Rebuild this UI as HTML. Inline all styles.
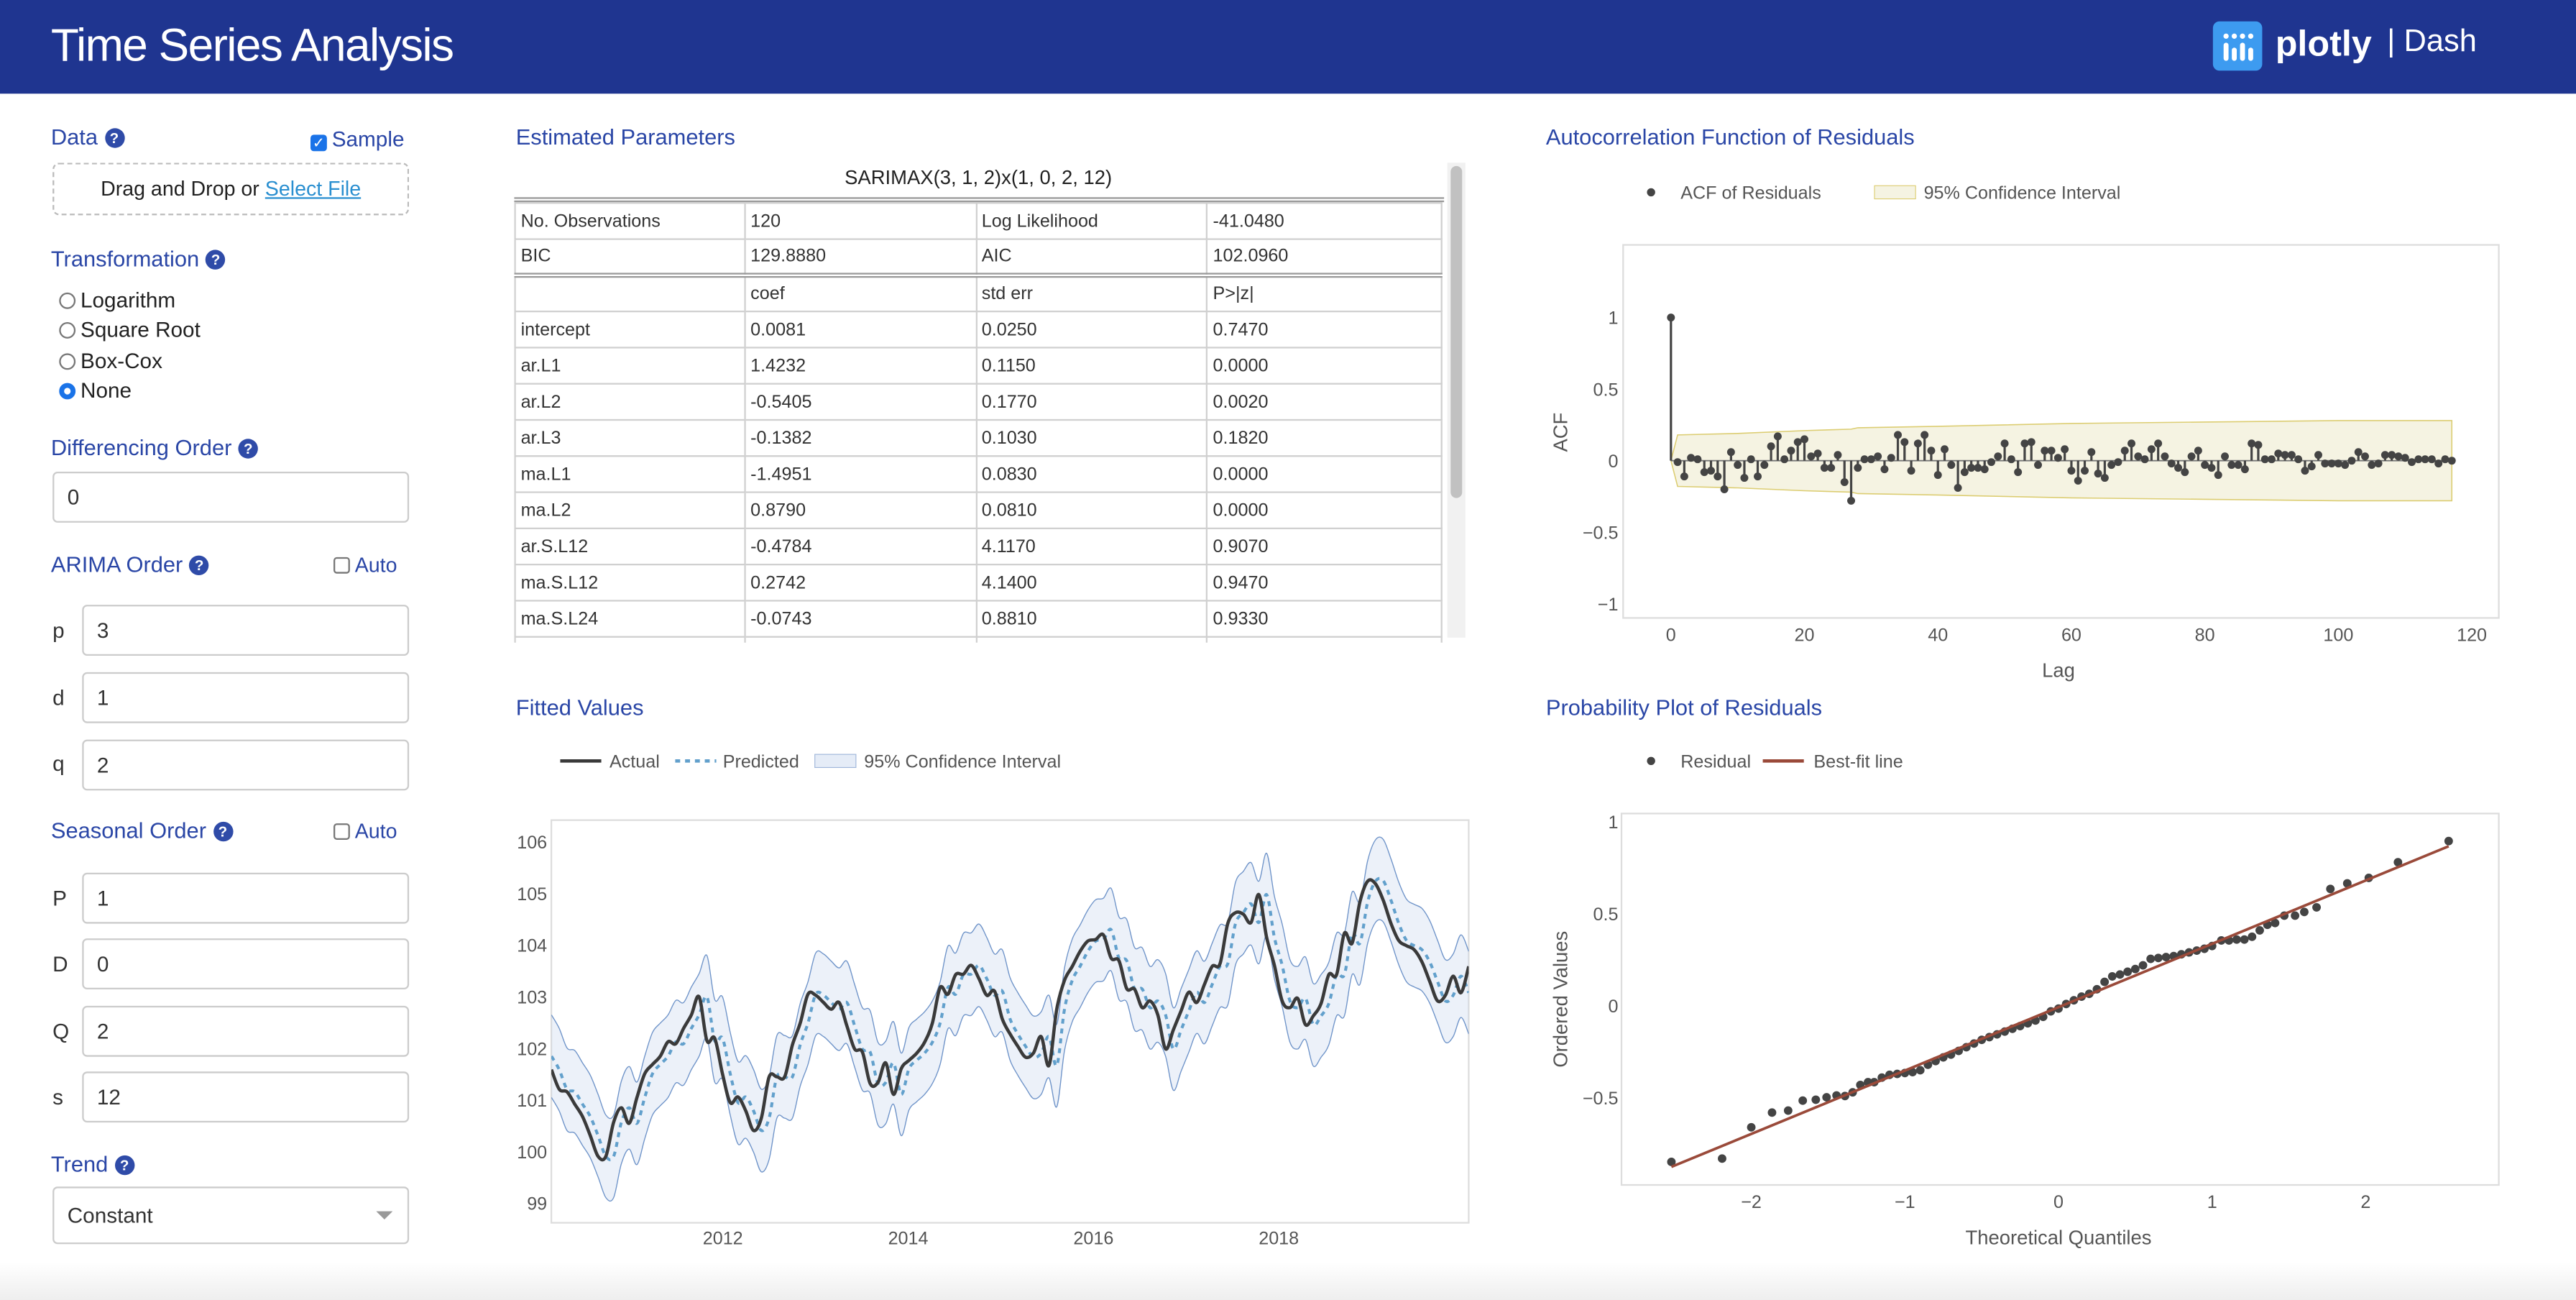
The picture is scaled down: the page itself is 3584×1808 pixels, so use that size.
<!DOCTYPE html>
<html><head><meta charset="utf-8"><title>Time Series Analysis</title>
<style>
html,body{margin:0;padding:0;width:3584px;height:1808px;overflow:hidden;background:#fff;}
#root{position:absolute;left:0;top:0;width:1568px;height:791px;transform:scale(2.285714);transform-origin:0 0;font-family:"Liberation Sans",sans-serif;color:#333;}
.abs{position:absolute;white-space:nowrap;}
.head{font-size:13.5px;color:#2a46a6;}
.help{display:inline-block;width:12px;height:12px;border-radius:50%;background:#2f4ba8;color:#fff;font-size:9px;font-weight:bold;text-align:center;line-height:12px;vertical-align:1px;margin-left:4px;}
.inp{position:absolute;border:1px solid #ccc;border-radius:3px;background:#fff;font-size:13px;line-height:29px;padding-left:8px;box-sizing:border-box;height:31px;}
.lbl{position:absolute;font-size:13px;color:#333;}
.radio{position:absolute;font-size:13px;color:#222;}
.radio span.c{display:inline-block;width:10px;height:10px;border:1px solid #777;border-radius:50%;margin-right:3px;vertical-align:-1px;box-sizing:border-box;}
.cb{display:inline-block;width:10px;height:10px;border:1px solid #777;border-radius:2px;vertical-align:-1px;margin-right:3px;box-sizing:border-box;background:#fff;}
table{border-collapse:collapse;font-size:11px;}
td{border:1px solid #d0d0d0;height:22px;padding:0 3px;box-sizing:border-box;}
svg text{font-family:"Liberation Sans",sans-serif;}
</style></head><body>
<div id="root">
<div class="abs" style="left:0;top:0;width:1568px;height:57px;background:#1f3590;"></div>
<div class="abs" style="left:31px;top:12px;font-size:28px;color:#fff;letter-spacing:-0.7px;">Time Series Analysis</div>
<div class="abs" style="left:1347px;top:13px;width:30px;height:30px;background:#3d9bf0;border-radius:4px;"></div>
<svg class="abs" style="left:1347px;top:13px" width="30" height="30"><g fill="#fff"><circle cx="8" cy="9" r="1.6"/><circle cx="13" cy="9" r="1.6"/><circle cx="18" cy="9" r="1.6"/><circle cx="23" cy="9" r="1.6"/><rect x="6.5" y="13" width="3" height="11" rx="1.5"/><rect x="11.5" y="16" width="3" height="8" rx="1.5"/><rect x="16.5" y="13" width="3" height="11" rx="1.5"/><rect x="21.5" y="16" width="3" height="8" rx="1.5"/></g></svg>
<div class="abs" style="left:1385px;top:14px;font-size:22px;font-weight:bold;color:#fff;">plotly</div>
<div class="abs" style="left:1453px;top:15px;font-size:19px;color:#fff;">| Dash</div>

<div class="abs head" style="left:31px;top:76px;">Data<span class="help">?</span></div>
<div class="abs" style="left:189px;top:77px;font-size:13px;color:#2a46a6;"><span class="cb" style="background:#1a73e8;border-color:#1a73e8;color:#fff;font-size:9px;line-height:9px;text-align:center">✓</span>Sample</div>
<div class="abs" style="left:32px;top:99px;width:217px;height:32px;border:1px dashed #bbb;border-radius:4px;box-sizing:border-box;text-align:center;line-height:30px;font-size:12.5px;color:#222;">Drag and Drop or <span style="color:#2a8fd0;text-decoration:underline">Select File</span></div>

<div class="abs head" style="left:31px;top:150px;">Transformation<span class="help">?</span></div>
<div class="radio" style="left:36px;top:175px;"><span class="c"></span>Logarithm</div>
<div class="radio" style="left:36px;top:193px;"><span class="c"></span>Square Root</div>
<div class="radio" style="left:36px;top:212px;"><span class="c"></span>Box-Cox</div>
<div class="radio" style="left:36px;top:230px;"><span class="c" style="border:3px solid #1a73e8"></span>None</div>

<div class="abs head" style="left:31px;top:265px;">Differencing Order<span class="help">?</span></div>
<div class="inp" style="left:32px;top:287px;width:217px;">0</div>

<div class="abs head" style="left:31px;top:336px;">ARIMA Order<span class="help">?</span></div>
<div class="abs" style="left:203px;top:337px;font-size:12.5px;color:#2a46a6;"><span class="cb"></span>Auto</div>
<div class="lbl" style="left:32px;top:376px;">p</div>
<div class="inp" style="left:50px;top:368px;width:199px;">3</div>
<div class="lbl" style="left:32px;top:417px;">d</div>
<div class="inp" style="left:50px;top:409px;width:199px;">1</div>
<div class="lbl" style="left:32px;top:457px;">q</div>
<div class="inp" style="left:50px;top:450px;width:199px;">2</div>

<div class="abs head" style="left:31px;top:498px;">Seasonal Order<span class="help">?</span></div>
<div class="abs" style="left:203px;top:499px;font-size:12.5px;color:#2a46a6;"><span class="cb"></span>Auto</div>
<div class="lbl" style="left:32px;top:539px;">P</div>
<div class="inp" style="left:50px;top:531px;width:199px;">1</div>
<div class="lbl" style="left:32px;top:579px;">D</div>
<div class="inp" style="left:50px;top:571px;width:199px;">0</div>
<div class="lbl" style="left:32px;top:620px;">Q</div>
<div class="inp" style="left:50px;top:612px;width:199px;">2</div>
<div class="lbl" style="left:32px;top:660px;">s</div>
<div class="inp" style="left:50px;top:652px;width:199px;">12</div>

<div class="abs head" style="left:31px;top:701px;">Trend<span class="help">?</span></div>
<div class="inp" style="left:32px;top:722px;width:217px;height:35px;line-height:33px;">Constant<span style="position:absolute;right:9px;top:14px;width:0;height:0;border-left:5px solid transparent;border-right:5px solid transparent;border-top:5px solid #999"></span></div>
<div class="abs" style="left:0;top:768px;width:1568px;height:23px;background:linear-gradient(#fff,#eeeeee);"></div>

<div class="abs head" style="left:314px;top:76px;">Estimated Parameters</div>
<div class="abs" style="left:313px;top:101px;width:565px;text-align:center;font-size:12px;color:#222;">SARIMAX(3, 1, 2)x(1, 0, 2, 12)</div>
<div class="abs" style="left:313px;top:120px;width:566px;height:268px;overflow:hidden;border-top:3px double #999;">
<table style="width:565px;">
<colgroup><col style="width:140px"><col style="width:141px"><col style="width:141px"><col style="width:143px"></colgroup>
<tr><td>No. Observations</td><td>120</td><td>Log Likelihood</td><td>-41.0480</td></tr>
<tr style="border-bottom:3px double #999"><td>BIC</td><td>129.8880</td><td>AIC</td><td>102.0960</td></tr>
<tr><td></td><td>coef</td><td>std err</td><td>P&gt;|z|</td></tr>
<tr><td>intercept</td><td>0.0081</td><td>0.0250</td><td>0.7470</td></tr>
<tr><td>ar.L1</td><td>1.4232</td><td>0.1150</td><td>0.0000</td></tr>
<tr><td>ar.L2</td><td>-0.5405</td><td>0.1770</td><td>0.0020</td></tr>
<tr><td>ar.L3</td><td>-0.1382</td><td>0.1030</td><td>0.1820</td></tr>
<tr><td>ma.L1</td><td>-1.4951</td><td>0.0830</td><td>0.0000</td></tr>
<tr><td>ma.L2</td><td>0.8790</td><td>0.0810</td><td>0.0000</td></tr>
<tr><td>ar.S.L12</td><td>-0.4784</td><td>4.1170</td><td>0.9070</td></tr>
<tr><td>ma.S.L12</td><td>0.2742</td><td>4.1400</td><td>0.9470</td></tr>
<tr><td>ma.S.L24</td><td>-0.0743</td><td>0.8810</td><td>0.9330</td></tr>
<tr><td>sigma2</td><td>0.1200</td><td>0.0150</td><td>0.0000</td></tr>
</table></div>
<div class="abs" style="left:881px;top:99px;width:11px;height:289px;background:#f1f1f1;"></div>
<div class="abs" style="left:883px;top:101px;width:7px;height:202px;background:#c1c1c1;border-radius:4px;"></div>

<div class="abs head" style="left:314px;top:423px;">Fitted Values</div>
<div class="abs head" style="left:941px;top:76px;">Autocorrelation Function of Residuals</div>
<div class="abs head" style="left:941px;top:423px;">Probability Plot of Residuals</div>

<svg id="charts" class="abs" style="left:0;top:0" width="1568" height="791"></svg>
</div>
<script>
const actual = [101.59,101.21,101.16,100.92,100.68,100.31,99.91,99.91,100.57,100.85,100.55,101.05,101.51,101.69,101.85,102.13,102.09,102.39,102.65,103.00,102.15,102.20,101.51,100.95,101.06,100.79,100.41,100.65,101.45,101.45,101.45,102.07,102.49,103.05,103.03,102.89,102.76,102.89,102.44,101.99,101.93,101.32,101.34,101.72,101.11,101.61,101.77,101.91,102.12,102.49,103.18,103.05,103.43,103.44,103.61,103.35,103.03,103.11,102.57,102.28,102.04,101.83,101.91,102.23,101.67,102.76,103.32,103.59,103.88,104.08,104.11,104.20,103.75,103.70,103.16,103.15,102.79,102.92,102.65,101.99,102.36,102.73,103.09,102.89,103.24,103.59,103.64,104.42,104.63,104.60,104.44,104.98,104.15,103.61,102.92,102.79,102.97,102.46,102.63,102.87,103.43,103.43,104.23,104.04,104.84,105.24,105.19,104.87,104.42,104.09,103.99,103.91,103.67,103.29,102.92,103.03,103.40,103.08,103.59];
const predicted = [101.85,101.59,101.21,101.16,100.92,100.68,100.31,99.91,99.91,100.57,100.85,100.55,101.05,101.51,101.69,101.85,102.13,102.09,102.39,102.65,103.00,102.15,102.20,101.51,100.95,101.06,100.79,100.41,100.65,101.45,101.45,101.45,102.07,102.49,103.05,103.03,102.89,102.76,102.89,102.44,101.99,101.93,101.32,101.34,101.72,101.11,101.61,101.77,101.91,102.12,102.49,103.18,103.05,103.43,103.44,103.61,103.35,103.03,103.11,102.57,102.28,102.04,101.83,101.91,102.23,101.67,102.76,103.32,103.59,103.88,104.08,104.11,104.30,103.75,103.70,103.16,103.15,102.79,102.92,102.65,101.99,102.36,102.73,103.09,102.89,103.24,103.59,103.64,104.42,104.63,104.80,104.44,104.98,104.15,103.61,102.92,102.79,102.97,102.46,102.63,102.87,103.43,103.43,104.23,104.04,104.84,105.24,105.25,104.87,104.42,104.09,103.99,103.91,103.67,103.29,102.92,103.03,103.40,103.08];
const ciHalfWidth = 0.8;
const startYear = 2010.15, endYear = 2020.05;
const fitYTicks = [99,100,101,102,103,104,105,106];
const fitXTicks = [2012,2014,2016,2018];
const acfValues = [1,-0.01,-0.11,0.02,0.01,-0.08,-0.07,-0.11,-0.2,0.06,-0.03,-0.12,0.01,-0.11,-0.03,0.10,0.17,0.01,0.07,0.13,0.15,0.03,0.05,-0.05,-0.05,0.04,-0.15,-0.28,-0.05,0.01,0.01,0.03,-0.06,0.02,0.18,0.13,-0.07,0.12,0.18,0.07,-0.10,0.08,-0.03,-0.19,-0.08,-0.05,-0.05,-0.06,-0.01,0.03,0.12,0.01,-0.08,0.12,0.13,-0.03,0.07,0.07,0.02,0.08,-0.07,-0.14,-0.07,0.06,-0.09,-0.12,-0.03,-0.01,0.07,0.12,0.03,0.01,0.08,0.12,0.03,-0.02,-0.05,-0.08,0.03,0.07,-0.03,-0.05,-0.10,0.03,-0.03,-0.03,-0.06,0.12,0.11,0.01,0.01,0.05,0.04,0.04,0.01,-0.07,-0.04,0.04,-0.02,-0.02,-0.02,-0.03,0,0.06,0.03,-0.03,-0.02,0.04,0.04,0.03,0.02,-0.01,0.01,0.01,0.01,-0.02,0.01,0];
const confLags = [0,1,10,20,27,28,40,60,80,100,117];
const confBound = [0,0.18,0.19,0.21,0.22,0.23,0.24,0.26,0.27,0.28,0.28];
const acfYTicks = [-1,-0.5,0,0.5,1];
const acfXTicks = [0,20,40,60,80,100,120];
const theoQuantiles = [-2.52,-2.19,-2.0,-1.865,-1.76,-1.665,-1.58,-1.51,-1.445,-1.39,-1.34,-1.29,-1.24,-1.2,-1.15,-1.10,-1.05,-1.00,-0.95,-0.90,-0.85,-0.80,-0.75,-0.70,-0.65,-0.60,-0.55,-0.50,-0.45,-0.40,-0.35,-0.30,-0.25,-0.20,-0.15,-0.10,-0.05,0,0.05,0.10,0.15,0.20,0.25,0.30,0.35,0.40,0.45,0.50,0.55,0.60,0.65,0.70,0.75,0.80,0.85,0.90,0.95,1.00,1.06,1.11,1.16,1.21,1.26,1.31,1.36,1.41,1.47,1.54,1.60,1.68,1.77,1.88,2.02,2.21,2.54];
const orderedResiduals = [-0.848,-0.83,-0.66,-0.58,-0.569,-0.515,-0.51,-0.497,-0.487,-0.49,-0.47,-0.43,-0.415,-0.415,-0.39,-0.375,-0.37,-0.365,-0.36,-0.35,-0.32,-0.30,-0.28,-0.265,-0.245,-0.225,-0.205,-0.185,-0.17,-0.155,-0.14,-0.125,-0.11,-0.095,-0.08,-0.06,-0.03,-0.015,0.01,0.03,0.05,0.065,0.09,0.13,0.16,0.17,0.185,0.20,0.22,0.255,0.26,0.265,0.27,0.28,0.29,0.30,0.31,0.325,0.355,0.355,0.36,0.36,0.375,0.41,0.44,0.45,0.49,0.49,0.51,0.535,0.635,0.665,0.695,0.78,0.895];
const fitLineQ = [-2.52,2.54];
const fitLineV = [-0.875,0.867];
const probXTicks = [-2,-1,0,1,2];
const probYTicks = [-0.5,0,0.5,1];

const NS='http://www.w3.org/2000/svg';
const svg=document.getElementById('charts');
function mk(tag,attrs,parent){const e=document.createElementNS(NS,tag);for(const k in attrs)e.setAttribute(k,attrs[k]);(parent||svg).appendChild(e);return e;}
function txt(x,y,s,anchor,size,fill,parent){const t=mk('text',{x:x,y:y,'text-anchor':anchor||'middle','font-size':size||11,fill:fill||'#555'},parent);t.textContent=s;return t;}
function spline(pts){let d='M'+pts[0][0]+','+pts[0][1];for(let i=0;i<pts.length-1;i++){const p0=pts[Math.max(0,i-1)],p1=pts[i],p2=pts[i+1],p3=pts[Math.min(pts.length-1,i+2)];const c1x=p1[0]+(p2[0]-p0[0])/6,c1y=p1[1]+(p2[1]-p0[1])/6,c2x=p2[0]-(p3[0]-p1[0])/6,c2y=p2[1]-(p3[1]-p1[1])/6;d+=' C'+c1x+','+c1y+' '+c2x+','+c2y+' '+p2[0]+','+p2[1];}return d;}

(function(){
const L=335.6,R=894,T=499,B=744;
const fx=y=>440+(y-2012)*56.4;
const fy=v=>512.3+(106-v)*31.41;
const idxYear=(i,n)=>startYear+i*(endYear-startYear)/(n-1);
const g=mk('g',{});


const frame=mk('rect',{x:L,y:T,width:R-L,height:B-T,fill:'#fff',stroke:'#ddd','stroke-width':1},g);


const cp=mk('clipPath',{id:'fitclip'},g);mk('rect',{x:L,y:T,width:R-L,height:B-T},cp);
const up=predicted.map((v,i)=>[fx(idxYear(i,predicted.length)),fy(v+ciHalfWidth)]);
const lo=predicted.map((v,i)=>[fx(idxYear(i,predicted.length)),fy(v-ciHalfWidth)]);
const loRev=lo.slice().reverse();
const band=mk('path',{d:spline(up)+' L'+spline(loRev).slice(1)+' Z',fill:'rgba(180,200,232,0.26)',stroke:'none','clip-path':'url(#fitclip)'},g);


const ub=mk('path',{d:spline(up),fill:'none',stroke:'#6f94c9','stroke-width':0.6,'clip-path':'url(#fitclip)'},g);


const lb=mk('path',{d:spline(lo),fill:'none',stroke:'#6f94c9','stroke-width':0.6,'clip-path':'url(#fitclip)'},g);


const pl=mk('path',{d:spline(predicted.map((v,i)=>[fx(idxYear(i,predicted.length)),fy(v)])),fill:'none',stroke:'#62a0cc','stroke-width':1.8,'stroke-dasharray':'3,3','clip-path':'url(#fitclip)'},g);


const al=mk('path',{d:spline(actual.map((v,i)=>[fx(idxYear(i,actual.length)),fy(v)])),fill:'none',stroke:'#3a3a3a','stroke-width':2,'clip-path':'url(#fitclip)'},g);


fitYTicks.forEach(v=>{const t=txt(333,fy(v)+4,String(v),'end',11,'#555',g);});
fitXTicks.forEach(v=>{const t=txt(fx(v),757,String(v),'middle',11,'#555',g);});
const lg=mk('g',{},g);


mk('line',{x1:341,y1:463,x2:366,y2:463,stroke:'#3a3a3a','stroke-width':2},lg);
txt(371,467,'Actual','start',11,'#555',lg);
mk('line',{x1:411,y1:463,x2:436,y2:463,stroke:'#62a0cc','stroke-width':2,'stroke-dasharray':'3,3'},lg);
txt(440,467,'Predicted','start',11,'#555',lg);
mk('rect',{x:496,y:459,width:25,height:8,fill:'rgba(180,200,232,0.35)',stroke:'#9fb6da','stroke-width':0.5},lg);
txt(526,467,'95% Confidence Interval','start',11,'#555',lg);
})();

(function(){
const L=988,R=1521,T=149,B=376;
const ax=l=>1017.1+l*4.0625;
const ay=v=>280.3-v*87.1;
const g=mk('g',{});


const frame=mk('rect',{x:L,y:T,width:R-L,height:B-T,fill:'#fff',stroke:'#ddd','stroke-width':1},g);


const upPts=confLags.map((l,i)=>[ax(l),ay(confBound[i])]);
const loPts=confLags.map((l,i)=>[ax(l),ay(-confBound[i])]).reverse();
const band=mk('path',{d:'M'+upPts.map(p=>p.join(',')).join(' L')+' L'+loPts.map(p=>p.join(',')).join(' L')+' Z',fill:'#f5f3e2',stroke:'#dccd72','stroke-width':0.7},g);


mk('line',{x1:ax(0),y1:ay(0),x2:ax(acfValues.length-1),y2:ay(0),stroke:'#777','stroke-width':0.8},g);
acfValues.forEach((v,l)=>{
  const s=mk('line',{x1:ax(l),y1:ay(0),x2:ax(l),y2:ay(v),stroke:'#444','stroke-width':1.4},g);
  
  
  const c=mk('circle',{cx:ax(l),cy:ay(v),r:2.4,fill:'#444'},g);
  
  
});
acfYTicks.forEach(v=>{const t=txt(985,ay(v)+4,v<0?'\u2212'+Math.abs(v):String(v),'end',11,'#555',g);});
acfXTicks.forEach(v=>{const t=txt(ax(v),390,String(v),'middle',11,'#555',g);});
const yt=txt(0,0,'ACF','middle',12,'#555',g);yt.setAttribute('transform','translate(954,263) rotate(-90)');


const xt=txt(1253,412,'Lag','middle',12,'#555',g);


const lg=mk('g',{},g);


mk('circle',{cx:1005,cy:117,r:2.5,fill:'#444'},lg);
txt(1023,121,'ACF of Residuals','start',11,'#555',lg);
mk('rect',{x:1141,y:113,width:25,height:8,fill:'#f5f3e2',stroke:'#dccd72','stroke-width':0.5},lg);
txt(1171,121,'95% Confidence Interval','start',11,'#555',lg);
})();

(function(){
const L=987,R=1521,T=495,B=721;
const px=q=>1253+q*93.5;
const py=v=>612-v*112;
const g=mk('g',{});


const frame=mk('rect',{x:L,y:T,width:R-L,height:B-T,fill:'#fff',stroke:'#ddd','stroke-width':1},g);


theoQuantiles.forEach((q,i)=>{
  const c=mk('circle',{cx:px(q),cy:py(orderedResiduals[i]),r:2.6,fill:'#444'},g);
  
  
});
const fl=mk('line',{x1:px(fitLineQ[0]),y1:py(fitLineV[0]),x2:px(fitLineQ[1]),y2:py(fitLineV[1]),stroke:'#9a4a3a','stroke-width':1.6},g);


probYTicks.forEach(v=>{const t=txt(985,py(v)+4,v<0?'\u2212'+Math.abs(v):String(v),'end',11,'#555',g);});
probXTicks.forEach(v=>{const t=txt(px(v),735,v<0?'\u2212'+Math.abs(v):String(v),'middle',11,'#555',g);});
const yt=txt(0,0,'Ordered Values','middle',12,'#555',g);yt.setAttribute('transform','translate(954,608) rotate(-90)');


const xt=txt(1253,757,'Theoretical Quantiles','middle',12,'#555',g);


const lg=mk('g',{},g);


mk('circle',{cx:1005,cy:463,r:2.5,fill:'#444'},lg);
txt(1023,467,'Residual','start',11,'#555',lg);
mk('line',{x1:1073,y1:463,x2:1098,y2:463,stroke:'#9a4a3a','stroke-width':2},lg);
txt(1104,467,'Best-fit line','start',11,'#555',lg);
})();
</script>
</body></html>
